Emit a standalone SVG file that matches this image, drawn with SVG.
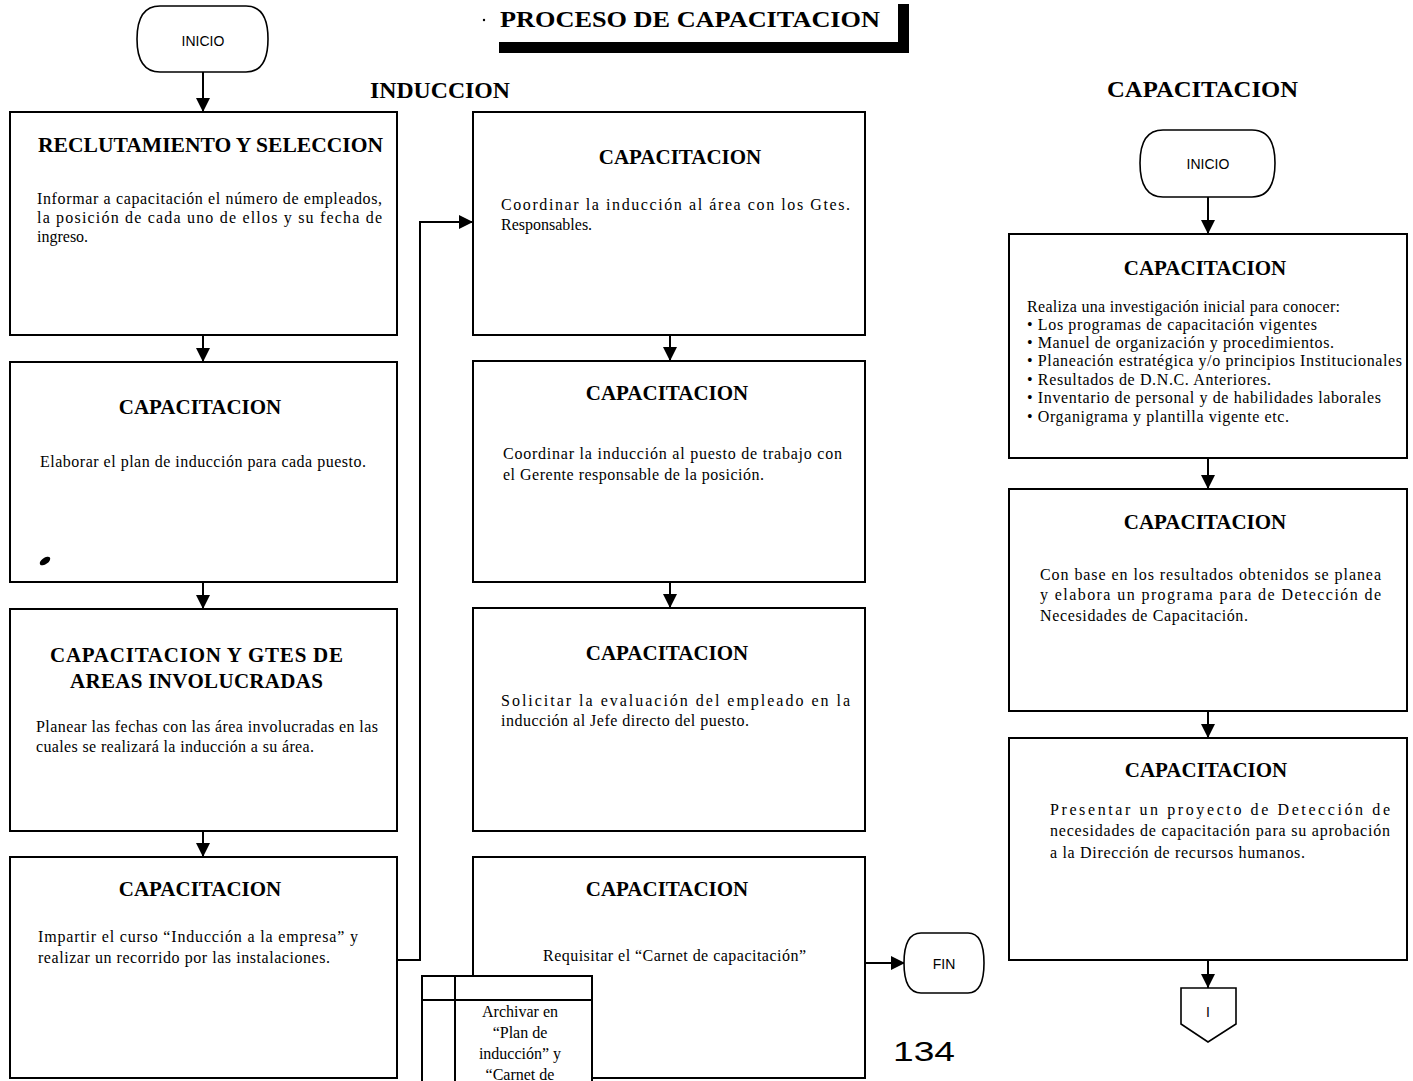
<svg xmlns="http://www.w3.org/2000/svg" width="1413" height="1081" viewBox="0 0 1413 1081">
<style>
.box{fill:#fff;stroke:#000;stroke-width:2}
.term{fill:#fff;stroke:#000;stroke-width:1.6}
.ttl{font-family:"Liberation Serif","Times New Roman",serif;font-weight:bold;font-size:21px;fill:#000}
.hd{font-family:"Liberation Serif","Times New Roman",serif;font-weight:bold;font-size:23px;fill:#000}
.tx{font-family:"Liberation Serif","Times New Roman",serif;font-size:16px;fill:#000}
.sm{font-family:"Liberation Sans",Arial,sans-serif;font-size:14px;fill:#000}
.ln{fill:none;stroke:#000;stroke-width:2}
</style>
<defs>
<marker id="ah" viewBox="0 0 14 14" refX="14" refY="7" markerWidth="14" markerHeight="14" markerUnits="userSpaceOnUse" orient="auto">
<path d="M0,0 L14,7 L0,14 Z" fill="#000"/>
</marker>
</defs>

<g id="title">
<circle cx="484" cy="20" r="1.2" fill="#000"/>
<text class="hd" x="500" y="27" textLength="380" lengthAdjust="spacingAndGlyphs" font-size="24">PROCESO DE CAPACITACION</text>
<rect x="898" y="4" width="11" height="49" fill="#000"/>
<rect x="499" y="42" width="410" height="11" fill="#000"/>
</g>
<g id="h-induccion"><text class="hd" x="370" y="98" textLength="140" lengthAdjust="spacingAndGlyphs">INDUCCION</text></g>
<g id="h-capacitacion"><text class="hd" x="1107" y="97" textLength="191" lengthAdjust="spacingAndGlyphs" font-size="24">CAPACITACION</text></g>

<g id="connectors">
<line class="ln" x1="203" y1="72" x2="203" y2="112" marker-end="url(#ah)"/>
<line class="ln" x1="203" y1="335" x2="203" y2="362" marker-end="url(#ah)"/>
<line class="ln" x1="203" y1="582" x2="203" y2="609" marker-end="url(#ah)"/>
<line class="ln" x1="203" y1="831" x2="203" y2="857" marker-end="url(#ah)"/>
<polyline class="ln" points="397,960 420,960 420,222 473,222" marker-end="url(#ah)"/>
<line class="ln" x1="670" y1="335" x2="670" y2="361" marker-end="url(#ah)"/>
<line class="ln" x1="670" y1="582" x2="670" y2="608" marker-end="url(#ah)"/>
<line class="ln" x1="865" y1="963" x2="905" y2="963" marker-end="url(#ah)"/>
<line class="ln" x1="1208" y1="197" x2="1208" y2="234" marker-end="url(#ah)"/>
<line class="ln" x1="1208" y1="458" x2="1208" y2="489" marker-end="url(#ah)"/>
<line class="ln" x1="1208" y1="711" x2="1208" y2="738" marker-end="url(#ah)"/>
<line class="ln" x1="1208" y1="960" x2="1208" y2="988" marker-end="url(#ah)"/>
</g>

<g id="inicio1">
<path class="term" d="M160,6 L246,6 Q268,6 268,39 Q268,72 246,72 L160,72 Q137,72 137,39 Q137,6 160,6 Z"/>
<text class="sm" x="203" y="46" text-anchor="middle">INICIO</text>
</g>

<g id="box1">
<rect class="box" x="10" y="112" width="387" height="223"/>
<text class="ttl" x="38" y="152" textLength="345" lengthAdjust="spacingAndGlyphs">RECLUTAMIENTO Y SELECCION</text>
<text class="tx" x="37" y="204" textLength="345" lengthAdjust="spacing">Informar a capacitación el número de empleados,</text>
<text class="tx" x="37" y="223" textLength="345" lengthAdjust="spacing">la posición de cada uno de ellos y su fecha de</text>
<text class="tx" x="37" y="242">ingreso.</text>
</g>

<g id="box2">
<rect class="box" x="10" y="362" width="387" height="220"/>
<text class="ttl" x="200" y="414" text-anchor="middle">CAPACITACION</text>
<text class="tx" x="40" y="467" textLength="326" lengthAdjust="spacing">Elaborar  el plan de inducción para cada puesto.</text>
<ellipse cx="45" cy="561" rx="6" ry="3.2" transform="rotate(-35 45 561)" fill="#000"/>
</g>

<g id="box3">
<rect class="box" x="10" y="609" width="387" height="222"/>
<text class="ttl" x="50" y="662" textLength="293" lengthAdjust="spacing">CAPACITACION Y GTES  DE</text>
<text class="ttl" x="70" y="688" textLength="253" lengthAdjust="spacing">AREAS INVOLUCRADAS</text>
<text class="tx" x="36" y="732" textLength="342" lengthAdjust="spacing">Planear las fechas con las área involucradas en las</text>
<text class="tx" x="36" y="752" textLength="278" lengthAdjust="spacing">cuales se realizará la inducción a su área.</text>
</g>

<g id="box4">
<rect class="box" x="10" y="857" width="387" height="221"/>
<text class="ttl" x="200" y="896" text-anchor="middle">CAPACITACION</text>
<text class="tx" x="38" y="942" textLength="320" lengthAdjust="spacing">Impartir el curso “Inducción a la empresa” y</text>
<text class="tx" x="38" y="963" textLength="292" lengthAdjust="spacing">realizar un recorrido por las instalaciones.</text>
</g>

<g id="box5">
<rect class="box" x="473" y="112" width="392" height="223"/>
<text class="ttl" x="680" y="164" text-anchor="middle">CAPACITACION</text>
<text class="tx" x="501" y="210" textLength="349" lengthAdjust="spacing">Coordinar la inducción al área con los Gtes.</text>
<text class="tx" x="501" y="230">Responsables.</text>
</g>

<g id="box6">
<rect class="box" x="473" y="361" width="392" height="221"/>
<text class="ttl" x="667" y="400" text-anchor="middle">CAPACITACION</text>
<text class="tx" x="503" y="459" textLength="339" lengthAdjust="spacing">Coordinar la inducción al puesto de trabajo con</text>
<text class="tx" x="503" y="480" textLength="261" lengthAdjust="spacing">el Gerente responsable de la posición.</text>
</g>

<g id="box7">
<rect class="box" x="473" y="608" width="392" height="223"/>
<text class="ttl" x="667" y="660" text-anchor="middle">CAPACITACION</text>
<text class="tx" x="501" y="706" textLength="349" lengthAdjust="spacing">Solicitar la evaluación del empleado en la</text>
<text class="tx" x="501" y="726" textLength="248" lengthAdjust="spacing">inducción al Jefe directo del puesto.</text>
</g>

<g id="box8">
<rect class="box" x="473" y="857" width="392" height="221"/>
<text class="ttl" x="667" y="896" text-anchor="middle">CAPACITACION</text>
<text class="tx" x="543" y="961" textLength="263" lengthAdjust="spacing">Requisitar el “Carnet de capacitación”</text>
</g>

<g id="archivo">
<rect x="422" y="976" width="170" height="110" fill="#fff" stroke="#000" stroke-width="2"/>
<line class="ln" x1="422" y1="1000" x2="592" y2="1000"/>
<line class="ln" x1="455" y1="976" x2="455" y2="1081"/>
<text class="tx" x="520" y="1017" text-anchor="middle" font-size="15">Archivar en</text>
<text class="tx" x="520" y="1038" text-anchor="middle" font-size="15">“Plan de</text>
<text class="tx" x="520" y="1059" text-anchor="middle" font-size="15">inducción”  y</text>
<text class="tx" x="520" y="1080" text-anchor="middle" font-size="15">“Carnet de</text>
</g>

<g id="fin">
<path class="term" d="M921,933 L968,933 Q984,933 984,963 Q984,993 968,993 L921,993 Q904,993 904,963 Q904,933 921,933 Z"/>
<text class="sm" x="944" y="969" text-anchor="middle">FIN</text>
</g>

<g id="pagenum">
<text x="893" y="1061" font-family="'Liberation Sans',Arial,sans-serif" font-size="27" fill="#000" textLength="62" lengthAdjust="spacingAndGlyphs">134</text>
</g>

<g id="inicio2">
<path class="term" d="M1163,130 L1252,130 Q1275,130 1275,163 Q1275,197 1252,197 L1163,197 Q1140,197 1140,163 Q1140,130 1163,130 Z"/>
<text class="sm" x="1208" y="169" text-anchor="middle">INICIO</text>
</g>

<g id="box9">
<rect class="box" x="1009" y="234" width="398" height="224"/>
<text class="ttl" x="1205" y="275" text-anchor="middle" font-size="22">CAPACITACION</text>
<text class="tx" x="1027" y="312" textLength="313" lengthAdjust="spacing">Realiza una investigación inicial para conocer:</text>
<text class="tx" x="1027" y="330" textLength="290" lengthAdjust="spacing">• Los programas de capacitación vigentes</text>
<text class="tx" x="1027" y="348" textLength="307" lengthAdjust="spacing">• Manuel de organización  y procedimientos.</text>
<text class="tx" x="1027" y="366" textLength="375" lengthAdjust="spacing">• Planeación estratégica y/o principios Institucionales</text>
<text class="tx" x="1027" y="385" textLength="244" lengthAdjust="spacing">• Resultados de D.N.C. Anteriores.</text>
<text class="tx" x="1027" y="403" textLength="354" lengthAdjust="spacing">• Inventario de personal y de habilidades laborales</text>
<text class="tx" x="1027" y="422" textLength="262" lengthAdjust="spacing">• Organigrama y plantilla vigente etc.</text>
</g>

<g id="box10">
<rect class="box" x="1009" y="489" width="398" height="222"/>
<text class="ttl" x="1205" y="529" text-anchor="middle" font-size="22">CAPACITACION</text>
<text class="tx" x="1040" y="580" textLength="341" lengthAdjust="spacing">Con base en los resultados obtenidos se planea</text>
<text class="tx" x="1040" y="600" textLength="341" lengthAdjust="spacing">y elabora un programa para de Detección de</text>
<text class="tx" x="1040" y="621" textLength="208" lengthAdjust="spacing">Necesidades de Capacitación.</text>
</g>

<g id="box11">
<rect class="box" x="1009" y="738" width="398" height="222"/>
<text class="ttl" x="1206" y="777" text-anchor="middle" font-size="22">CAPACITACION</text>
<text class="tx" x="1050" y="815" textLength="340" lengthAdjust="spacing">Presentar un proyecto de Detección de</text>
<text class="tx" x="1050" y="836" textLength="340" lengthAdjust="spacing">necesidades de capacitación para su aprobación</text>
<text class="tx" x="1050" y="858" textLength="255" lengthAdjust="spacing">a la Dirección de recursos humanos.</text>
</g>

<g id="offpage">
<path class="term" stroke-width="2" d="M1181,988 L1236,988 L1236,1024 L1208,1042 L1181,1024 Z"/>
<text class="sm" x="1208" y="1017" text-anchor="middle">I</text>
</g>
</svg>
